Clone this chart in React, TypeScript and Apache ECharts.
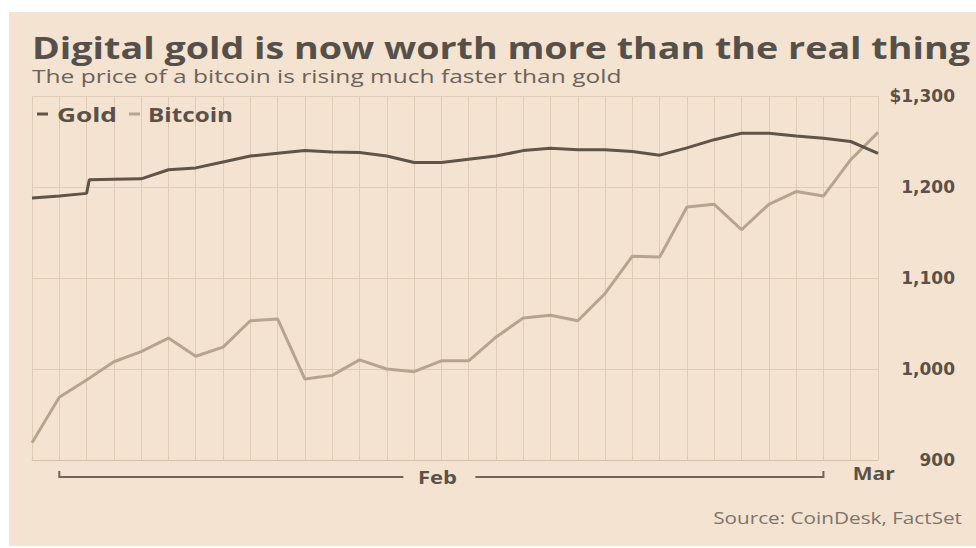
import React, { useEffect, useRef } from "react";
import * as echarts from "echarts";

// Daily points, Jan 31 .. Mar 3 (index 0..31)
const dayLabels = [
  "Jan 31",
  "Feb 1", "Feb 2", "Feb 3", "Feb 4", "Feb 5", "Feb 6", "Feb 7", "Feb 8", "Feb 9", "Feb 10",
  "Feb 11", "Feb 12", "Feb 13", "Feb 14", "Feb 15", "Feb 16", "Feb 17", "Feb 18", "Feb 19", "Feb 20",
  "Feb 21", "Feb 22", "Feb 23", "Feb 24", "Feb 25", "Feb 26", "Feb 27", "Feb 28",
  "Mar 1", "Mar 2", "Mar 3",
];

const bitcoin = [
  919, 969, 988, 1008, 1019, 1034, 1014, 1024, 1053, 1055, 989, 993, 1010, 1000, 997, 1009,
  1009, 1035, 1056, 1059, 1053, 1083, 1124, 1123, 1178, 1181, 1153, 1181, 1195, 1190, 1230, 1260,
];

// Gold (day index, price); a step early on day 2
const goldDays = [
  0, 1, 2, 2.1, 3, 4, 5, 6, 7, 8, 9, 10, 11, 12, 13, 14, 15, 16, 17, 18, 19, 20, 21, 22, 23, 24,
  25, 26, 27, 28, 29, 30, 31,
];
const goldPrices = [
  1188, 1190, 1193, 1208, 1208.5, 1209, 1219, 1221, 1227.5, 1234, 1237, 1240, 1238.5, 1238, 1234,
  1227, 1227, 1230.5, 1234, 1240, 1242.5, 1241, 1241, 1239, 1235, 1243, 1252, 1259, 1259, 1256,
  1253.5, 1250, 1237,
];

const yTicks = [900, 1000, 1100, 1200, 1300];
const febBracket = [1, 29];
const febLabelAt = 15;
const marLabelAt = 30;

const TITLE = "Digital gold is now worth more than the real thing";
const SUBTITLE = "The price of a bitcoin is rising much faster than gold";
const SOURCE = "Source: CoinDesk, FactSet";

const BG = "#f4e3d1";
const GOLD = "#5f5448";
const BTC = "#b7a490";
const TEXT = "#5a5148";
const GRIDC = "#e0ccb6";

function measure(text: string, font: string): number {
  const c = document.createElement("canvas").getContext("2d");
  if (!c) return 1;
  c.font = font;
  return c.measureText(text).width || 1;
}

export default function App() {
  const ref = useRef<HTMLDivElement>(null);

  useEffect(() => {
    if (!ref.current) return;
    const chart = echarts.init(ref.current, undefined, { renderer: "svg" });
    chart.setOption({
      animation: false,
      backgroundColor: "#ffffff",
      grid: { left: 32, right: 98, top: 96, bottom: 88 },
      xAxis: {
        type: "value",
        min: 0,
        max: dayLabels.length - 1,
        interval: 1,
        axisLabel: { show: false },
        axisTick: { show: false },
        axisLine: { show: true, lineStyle: { color: "#d5c1ab", width: 1 } },
        splitLine: { show: true, lineStyle: { color: GRIDC, width: 1 } },
      },
      yAxis: {
        type: "value",
        position: "right",
        min: yTicks[0],
        max: yTicks[yTicks.length - 1],
        interval: 100,
        axisLine: { show: false },
        axisTick: { show: false },
        splitLine: { show: true, lineStyle: { color: GRIDC, width: 1 } },
        axisLabel: {
          align: "right",
          margin: 77,
          color: TEXT,
          fontFamily: "DejaVu Sans",
          fontWeight: "bold",
          fontSize: 17,
          formatter: (v: number) =>
            (v === yTicks[yTicks.length - 1] ? "$" : "") + v.toLocaleString("en-US"),
        },
      },
      series: [
        {
          name: "Bitcoin",
          type: "line",
          data: bitcoin.map((v, i) => [i, v]),
          showSymbol: false,
          symbol: "none",
          lineStyle: { color: BTC, width: 3 },
          z: 3,
        },
        {
          name: "Gold",
          type: "line",
          data: goldDays.map((d, i) => [d, goldPrices[i]]),
          showSymbol: false,
          symbol: "none",
          lineStyle: { color: GOLD, width: 3 },
          z: 4,
        },
      ],
    });

    const px = (d: number) => chart.convertToPixel({ xAxisIndex: 0 }, d) as number;
    const x0 = px(febBracket[0]);
    const x1 = px(febBracket[1]);
    const xf = px(febLabelAt);
    const xm = px(marLabelAt);
    const by = 477;

    const fitText = (
      text: string,
      font: string,
      width: number,
      x: number,
      y: number,
      fill: string,
      align: string = "left"
    ) => ({
      type: "text",
      x,
      y,
      scaleX: width / measure(text, font),
      style: { text, fill, font, textAlign: align, textVerticalAlign: "middle" },
    });

    const titleFont = "bold 31px 'Open Sans'";
    const subFont = "19px 'Open Sans'";
    const legFont = "bold 20px 'Open Sans'";
    const monFont = "bold 17px 'Open Sans'";
    const srcFont = "16px 'Open Sans'";

    chart.setOption({
      graphic: [
        {
          type: "rect",
          z: -10,
          silent: true,
          shape: { x: 9, y: 12, width: 967, height: 534 },
          style: { fill: BG },
        },
        fitText(TITLE, titleFont, 938, 32, 47, "#56504a"),
        fitText(SUBTITLE, subFont, 590, 32, 76, "#6b625b"),
        {
          type: "line",
          shape: { x1: 37, y1: 114, x2: 48, y2: 114 },
          style: { stroke: GOLD, lineWidth: 3 },
        },
        fitText("Gold", legFont, 60, 57, 114, TEXT),
        {
          type: "line",
          shape: { x1: 129, y1: 114, x2: 140, y2: 114 },
          style: { stroke: BTC, lineWidth: 3 },
        },
        fitText("Bitcoin", legFont, 85, 148, 114, TEXT),
        {
          type: "polyline",
          shape: { points: [[x0, by - 6], [x0, by], [xf - 38, by]] },
          style: { stroke: "#6e655c", lineWidth: 2, fill: "none" },
        },
        {
          type: "polyline",
          shape: { points: [[xf + 34, by], [x1, by], [x1, by - 6]] },
          style: { stroke: "#6e655c", lineWidth: 2, fill: "none" },
        },
        fitText("Feb", monFont, 39, xf - 4, by + 1, TEXT, "center"),
        fitText("Mar", monFont, 42, xm + 2, by - 3, TEXT, "left"),
        fitText(SOURCE, srcFont, 249, 962, 518, "#7d746c", "right"),
      ],
    });

    return () => chart.dispose();
  }, []);

  return (
    <div
      ref={ref}
      style={{ position: "fixed", left: 0, top: 0, width: 976, height: 548 }}
    />
  );
}
